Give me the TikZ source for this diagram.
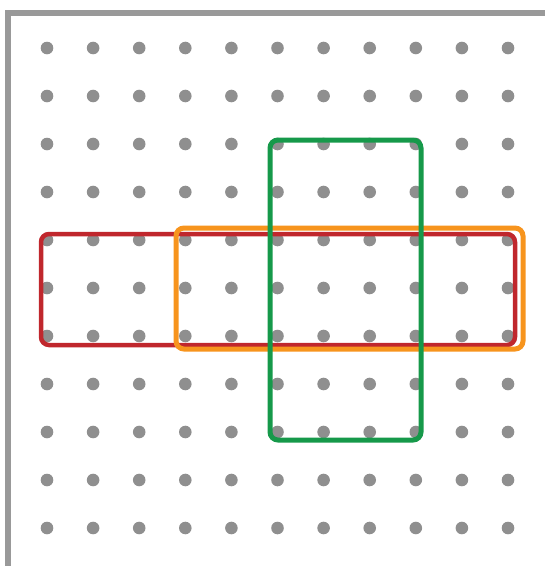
\documentclass[tikz,border=0pt]{standalone}
\usetikzlibrary{positioning}

\definecolor{dotgrey}{HTML}{8F8F8F}
\definecolor{framegrey}{HTML}{999999}
\definecolor{rectred}{HTML}{C0272D}
\definecolor{rectorange}{HTML}{F7941D}
\definecolor{rectgreen}{HTML}{16994A}

\begin{document}
\begin{tikzpicture}[x=1pt, y=-1pt,
          dot/.style={fill=dotgrey},
          frame/.style={draw=framegrey, line width=5.5pt},
          band/.style={line width=4.5pt, rounded corners=8pt},
        ]
          \useasboundingbox (0,0) rectangle (545,566);
          % page frame
          \coordinate (tl) at (8,13);
          \coordinate (tr) at (545,13);
          \coordinate (bl) at (8,566);
          \draw[frame] (bl) -- (tl) -- (tr);
          % dot grid
          \foreach \i in {0,...,10}
            \foreach \j in {0,...,10}
              \fill[dot] (47+46.1*\i, 48+48*\j) circle (6.3);
          % rectangles
          \coordinate (r1) at (41,234);
          \coordinate (r2) at (515,345);
          \coordinate (o1) at (176,228);
          \coordinate (o2) at (523,349);
          \coordinate (g1) at (270,140);
          \coordinate (g2) at (421,440);
          \draw[band, rectred]    (r1) rectangle (r2);
          \draw[band, rectorange, line width=5pt] (o1) rectangle (o2);
          \draw[band, rectgreen, line width=5pt]  (g1) rectangle (g2);
        \end{tikzpicture}
\end{document}
